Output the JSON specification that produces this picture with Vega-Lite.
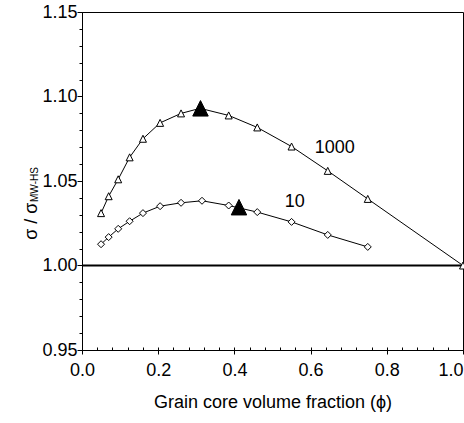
{
  "$schema": "https://vega.github.io/schema/vega-lite/v6.json",
  "autosize": {"type": "none"},
  "width": 381,
  "height": 338,
  "padding": {"left": 82, "top": 12, "right": 1, "bottom": 73},
  "background": "white",
  "config": {
    "view": {"stroke": "black", "strokeWidth": 1},
    "font": "Liberation Sans",
    "axis": {
      "domainColor": "black", "tickColor": "black", "labelColor": "black", "titleColor": "black",
      "grid": false, "labelFont": "Liberation Sans", "titleFont": "Liberation Sans",
      "labelFontSize": 18, "titleFontSize": 18, "titleFontWeight": "normal", "domainWidth": 1, "tickWidth": 1
    }
  },
  "datasets": {
    "curves": [
      {"series": "1000", "phi": 0.05, "ratio": 1.031},
      {"series": "1000", "phi": 0.07, "ratio": 1.041},
      {"series": "1000", "phi": 0.095, "ratio": 1.051},
      {"series": "1000", "phi": 0.125, "ratio": 1.064},
      {"series": "1000", "phi": 0.16, "ratio": 1.075},
      {"series": "1000", "phi": 0.205, "ratio": 1.0844},
      {"series": "1000", "phi": 0.26, "ratio": 1.09},
      {"series": "1000", "phi": 0.31, "ratio": 1.093},
      {"series": "1000", "phi": 0.385, "ratio": 1.0888},
      {"series": "1000", "phi": 0.46, "ratio": 1.0817},
      {"series": "1000", "phi": 0.55, "ratio": 1.0704},
      {"series": "1000", "phi": 0.645, "ratio": 1.056},
      {"series": "1000", "phi": 0.75, "ratio": 1.0394},
      {"series": "1000", "phi": 1.0, "ratio": 1.0},
      {"series": "10", "phi": 0.05, "ratio": 1.0126},
      {"series": "10", "phi": 0.07, "ratio": 1.0168},
      {"series": "10", "phi": 0.095, "ratio": 1.0217},
      {"series": "10", "phi": 0.125, "ratio": 1.0262},
      {"series": "10", "phi": 0.16, "ratio": 1.031},
      {"series": "10", "phi": 0.205, "ratio": 1.0351},
      {"series": "10", "phi": 0.26, "ratio": 1.0371},
      {"series": "10", "phi": 0.315, "ratio": 1.0383},
      {"series": "10", "phi": 0.385, "ratio": 1.0355},
      {"series": "10", "phi": 0.46, "ratio": 1.0316},
      {"series": "10", "phi": 0.55, "ratio": 1.0258},
      {"series": "10", "phi": 0.645, "ratio": 1.0181},
      {"series": "10", "phi": 0.75, "ratio": 1.011}
    ],
    "peaks": [
      {"series": "1000", "phi": 0.311, "ratio": 1.093},
      {"series": "10", "phi": 0.412, "ratio": 1.0345}
    ],
    "labels": [
      {"label": "1000", "phi": 0.6636, "ratio": 1.0698},
      {"label": "10", "phi": 0.5585, "ratio": 1.0377}
    ],
    "ytitle": [
      {"part": "main", "text": "σ / σ", "phi": -0.1188, "ratio": 1.0152},
      {"part": "sub", "text": "MW-HS", "phi": -0.116, "ratio": 1.0376}
    ],
    "reference": [
      {"ref": 1.0}
    ]
  },
  "layer": [
    {
      "data": {"name": "reference"},
      "mark": {"type": "rule", "color": "black", "strokeWidth": 2},
      "encoding": {
        "y": {"field": "ref", "type": "quantitative", "scale": {"domain": [0.95, 1.15], "nice": false, "zero": false}, "axis": null}
      }
    },
    {
      "data": {"name": "curves"},
      "mark": {"type": "line", "color": "black", "strokeWidth": 1},
      "encoding": {
        "x": {
          "field": "phi", "type": "quantitative",
          "scale": {"domain": [0, 1], "nice": false, "zero": false},
          "axis": {
            "orient": "bottom",
            "values": [0, 0.2, 0.4, 0.6, 0.8, 1.0], "format": ".1f",
            "tickSize": 4, "labelPadding": 7, "labelFlush": false, "labelOverlap": false,
            "labelAlign": {"expr": "datum.value >= 1 ? 'right' : 'center'"},
            "title": "Grain core volume fraction (ϕ)", "titlePadding": 14
          }
        },
        "y": {
          "field": "ratio", "type": "quantitative",
          "scale": {"domain": [0.95, 1.15], "nice": false, "zero": false},
          "axis": {
            "orient": "left",
            "values": [0.95, 1.0, 1.05, 1.1, 1.15], "format": ".2f",
            "tickSize": 5, "labelPadding": 0, "labelFlush": false, "labelOverlap": false,
            "title": null
          }
        },
        "detail": {"field": "series"}
      }
    },
    {
      "data": {"name": "curves"},
      "mark": {"type": "point", "filled": true, "fill": "white", "stroke": "black", "strokeWidth": 1, "size": 49, "opacity": 1},
      "encoding": {
        "x": {
          "field": "phi", "type": "quantitative",
          "scale": {"domain": [0, 1], "nice": false, "zero": false},
          "axis": {
            "orient": "bottom",
            "values": [0, 0.04, 0.08, 0.12, 0.16, 0.2, 0.24, 0.28, 0.32, 0.36, 0.4, 0.44, 0.48, 0.52, 0.56, 0.6, 0.64, 0.68, 0.72, 0.76, 0.8, 0.84, 0.88, 0.92, 0.96, 1.0],
            "tickSize": -3, "labels": false, "domain": false, "title": null
          }
        },
        "y": {
          "field": "ratio", "type": "quantitative",
          "scale": {"domain": [0.95, 1.15], "nice": false, "zero": false},
          "axis": {
            "orient": "left",
            "values": [0.95, 0.96, 0.97, 0.98, 0.99, 1.0, 1.01, 1.02, 1.03, 1.04, 1.05, 1.06, 1.07, 1.08, 1.09, 1.1, 1.11, 1.12, 1.13, 1.14, 1.15],
            "tickSize": 3, "labels": false, "domain": false, "title": null
          }
        },
        "shape": {
          "field": "series", "type": "nominal",
          "scale": {"domain": ["1000", "10"], "range": ["M0,-1L-1,1L1,1Z", "M0,-1L1,0L0,1L-1,0Z"]},
          "legend": null
        }
      }
    },
    {
      "data": {"name": "peaks"},
      "mark": {"type": "point", "filled": true, "fill": "black", "stroke": "black", "strokeWidth": 1, "size": 240, "opacity": 1, "shape": "M0,-1L-1,1L1,1Z"},
      "encoding": {
        "x": {"field": "phi", "type": "quantitative", "scale": {"domain": [0, 1], "nice": false, "zero": false}, "axis": null},
        "y": {"field": "ratio", "type": "quantitative", "scale": {"domain": [0.95, 1.15], "nice": false, "zero": false}, "axis": null}
      }
    },
    {
      "data": {"name": "labels"},
      "mark": {"type": "text", "fontSize": 18, "font": "Liberation Sans", "color": "black", "align": "center", "baseline": "middle"},
      "encoding": {
        "x": {"field": "phi", "type": "quantitative", "scale": {"domain": [0, 1], "nice": false, "zero": false}, "axis": null},
        "y": {"field": "ratio", "type": "quantitative", "scale": {"domain": [0.95, 1.15], "nice": false, "zero": false}, "axis": null},
        "text": {"field": "label"}
      }
    },
    {
      "data": {"name": "ytitle"},
      "mark": {"type": "text", "angle": 270, "align": "left", "baseline": "alphabetic", "font": "Liberation Sans", "color": "black"},
      "encoding": {
        "x": {"field": "phi", "type": "quantitative", "scale": {"domain": [0, 1], "nice": false, "zero": false}, "axis": null},
        "y": {"field": "ratio", "type": "quantitative", "scale": {"domain": [0.95, 1.15], "nice": false, "zero": false}, "axis": null},
        "text": {"field": "text"},
        "size": {"field": "part", "type": "nominal", "scale": {"domain": ["main", "sub"], "range": [18, 10]}, "legend": null}
      }
    }
  ],
  "resolve": {"axis": {"x": "independent", "y": "independent"}}
}
